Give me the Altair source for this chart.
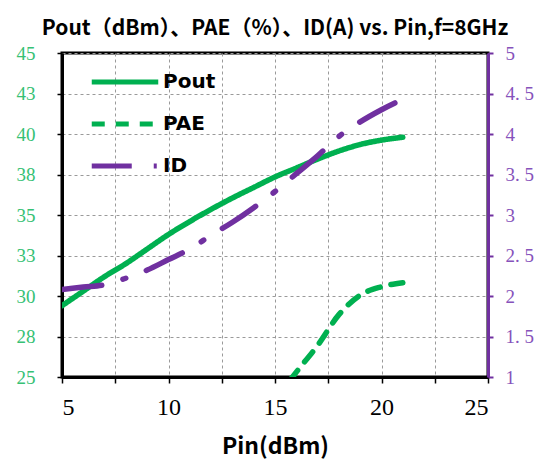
import altair as alt
import pandas as pd

# ---- data ----
pin = [5, 6, 7, 8, 9, 10, 11, 12, 13, 14, 15, 16, 17, 18, 19, 20, 21]
pout = [29.4, 30.3, 31.2, 32.0, 32.9, 33.8, 34.6, 35.35, 36.05, 36.7,
        37.35, 37.9, 38.45, 38.95, 39.35, 39.62, 39.8]
pae_pin = [15, 16, 17, 18, 19, 20, 21]
pae = [23.6, 25.3, 26.95, 28.85, 30.05, 30.57, 30.82]
id_a = [2.08, 2.11, 2.14, 2.22, 2.32, 2.45, 2.58, 2.75, 2.91, 3.09,
        3.29, 3.51, 3.73, 3.97, 4.15, 4.30, 4.43]

series_names = ["Pout", "PAE", "ID"]
series_colors = ["#00b050", "#00b050", "#7030a0"]
series_dashes = [[1, 0], [13, 11], [40, 22, 3, 22]]

x_ticks = [5, 7.5, 10, 12.5, 15, 17.5, 20, 22.5, 25]
left_ticks = [25, 27.5, 30, 32.5, 35, 37.5, 40, 42.5, 45]
right_ticks = [1, 1.5, 2, 2.5, 3, 3.5, 4, 4.5, 5]

title_text = "Pout（dBm）、PAE（%）、ID(A) vs. Pin,f=8GHz"
x_title = "Pin(dBm)"

left_df = pd.DataFrame({
    "Pin": pin + pae_pin,
    "value": pout + pae,
    "series": ["Pout"] * len(pin) + ["PAE"] * len(pae_pin),
})
right_df = pd.DataFrame({
    "Pin": pin,
    "value": id_a,
    "series": ["ID"] * len(pin),
})

legend = alt.Legend(
    title=None, orient="none", legendX=51, legendY=17, padding=0,
    symbolType="M-3.5,0L3.5,0", symbolSize=361, symbolStrokeWidth=5,
    labelFont="DejaVu Sans", labelFontWeight="bold", labelFontSize=20,
    labelColor="black", rowPadding=20, labelOffset=26,
)
color = alt.Color("series:N", scale=alt.Scale(domain=series_names, range=series_colors), legend=legend)
dash = alt.StrokeDash("series:N", scale=alt.Scale(domain=series_names, range=series_dashes), legend=legend)

x_enc = alt.X(
    "Pin:Q",
    scale=alt.Scale(domain=[5, 25], nice=False),
    axis=alt.Axis(
        values=x_ticks, title=x_title,
        labelExpr="datum.value % 5 === 0 ? datum.label : ''",
        labelFont="Liberation Serif", labelFontSize=24, labelColor="black",
        labelPadding=12, tickSize=6, tickColor="black", tickWidth=1.5,
        domainColor="black", domainWidth=3, grid=True,
        titleFont="Noto Sans CJK SC", titleFontWeight="bold", titleFontSize=23,
        titleColor="black", titlePadding=16,
    ),
)

left = alt.Chart(left_df).mark_line(strokeWidth=5.5, strokeCap="round", interpolate="monotone", clip=True).encode(
    x=x_enc,
    y=alt.Y(
        "value:Q",
        scale=alt.Scale(domain=[25, 45], nice=False, zero=False),
        axis=alt.Axis(
            orient="left", values=left_ticks, title=None,
            labelExpr="format(round(datum.value), 'd')",
            labelFont="Liberation Serif", labelFontSize=19, labelColor="#36c174",
            labelPadding=22, tickSize=5, tickColor="black", tickWidth=1.5,
            domainColor="black", domainWidth=3, grid=True,
        ),
    ),
    color=color,
    strokeDash=dash,
)

right = alt.Chart(right_df).mark_line(strokeWidth=5.5, strokeCap="round", interpolate="monotone", clip=True).encode(
    x=x_enc,
    y=alt.Y(
        "value:Q",
        scale=alt.Scale(domain=[1, 5], nice=False, zero=False),
        axis=alt.Axis(
            orient="right", values=right_ticks, title=None,
            labelExpr="datum.value % 1 === 0 ? format(datum.value, 'd') : replace(format(datum.value, '.1f'), '.', '. ')",
            labelFont="Liberation Serif", labelFontSize=19, labelColor="#8652bb",
            labelPadding=12, tickSize=5, tickColor="#7030a0", tickWidth=2,
            domainColor="#7030a0", domainWidth=3, grid=False,
        ),
    ),
    color=color,
    strokeDash=dash,
)

chart = alt.layer(left, right).resolve_scale(y="independent").properties(
    width=426, height=324,
    autosize=alt.AutoSizeParams(type="none"),
    padding={"left": 54, "top": 45, "right": 54, "bottom": 85},
    title=alt.TitleParams(
        text=title_text, font="Noto Sans CJK SC", fontWeight="bold",
        fontSize=21, color="black", anchor="middle", offset=5,
    ),
).configure_view(
    stroke="black", strokeWidth=3
).configure_axis(
    gridColor="#9a9a9a", gridDash=[3, 3], gridWidth=1,
)

chart.save("out.html", embed_options={"renderer": "svg", "actions": False})
